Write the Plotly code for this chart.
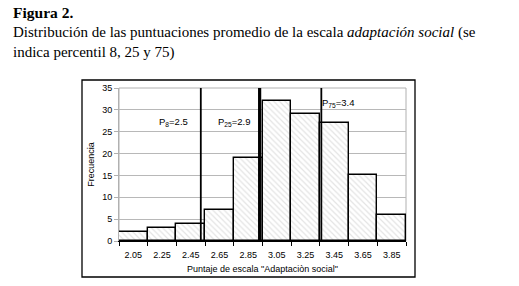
import plotly.graph_objects as go

# Data
bin_centers = [2.05, 2.25, 2.45, 2.65, 2.85, 3.05, 3.25, 3.45, 3.65, 3.85]
frequencies = [2, 3, 4, 7, 19, 32, 29, 27, 15, 6]
tick_labels = ["2.05", "2.25", "2.45", "2.65", "2.85", "3.05", "3.25", "3.45", "3.65", "3.85"]
percentile_names = ["P<sub>8</sub>=2.5", "P<sub>25</sub>=2.9", "P<sub>75</sub>=3.4"]
percentile_line_x = [2.52, 2.93, 3.36]   # positions of drawn lines
percentile_line_w = [1.8, 3.2, 1.8]
label_x = [2.333, 2.758, 3.48]
label_y = [27.3, 27.3, 31.6]

W, H = 519, 286
L, R, T, B = 119, 113, 88, 45
pw, ph = W - L - R, H - T - B

def px2paper_x(px):
    return (px - L) / pw

def px2paper_y(py):
    return (H - B - py) / ph

fig = go.Figure()
fig.add_trace(go.Bar(
    x=bin_centers, y=frequencies, width=0.2,
    marker=dict(color="white",
                line=dict(color="black", width=1.4),
                pattern=dict(shape="\\", fgcolor="#c8c8c8", bgcolor="white", size=4, solidity=0.3)),
    showlegend=False, hoverinfo="skip"))

shapes = []
# plot area border (gray)
shapes.append(dict(type="rect", xref="paper", yref="paper", x0=0, x1=1, y0=0, y1=1,
                   line=dict(color="#b0b0b0", width=1), layer="below"))
# outer chart border
shapes.append(dict(type="rect", xref="paper", yref="paper",
                   x0=px2paper_x(82), x1=px2paper_x(415), y0=px2paper_y(277), y1=px2paper_y(80),
                   line=dict(color="black", width=1.3)))
for xv, w in zip(percentile_line_x, percentile_line_w):
    shapes.append(dict(type="line", xref="x", yref="y", x0=xv, x1=xv, y0=-2.6, y1=35.3,
                       line=dict(color="black", width=w)))

annotations = []
for name, xv, yv in zip(percentile_names, label_x, label_y):
    annotations.append(dict(x=xv, y=yv, xref="x", yref="y", text=name, showarrow=False,
                            font=dict(family="Liberation Sans", size=9.5, color="black")))
annotations.append(dict(x=px2paper_x(11), y=px2paper_y(2), xref="paper", yref="paper",
                        xanchor="left", yanchor="top", showarrow=False,
                        text="<b>Figura 2.</b>",
                        font=dict(family="Liberation Serif", size=15.5, color="black")))
annotations.append(dict(x=px2paper_x(11), y=px2paper_y(22), xref="paper", yref="paper",
                        xanchor="left", yanchor="top", showarrow=False, align="left",
                        text="Distribución de las puntuaciones promedio de la escala <i>adaptación social</i> (se<br>indica percentil 8, 25 y 75)",
                        font=dict(family="Liberation Serif", size=15, color="black")))

fig.update_layout(
    width=W, height=H, margin=dict(l=L, r=R, t=T, b=B, autoexpand=False),
    paper_bgcolor="white", plot_bgcolor="white",
    bargap=0, shapes=shapes, annotations=annotations,
    font=dict(family="Liberation Sans", size=9, color="black"),
    xaxis=dict(range=[1.95, 3.95], tickmode="array", tickvals=bin_centers, ticktext=tick_labels,
               ticks="", showgrid=False, zeroline=False, showline=True, linecolor="black", linewidth=1.2,
               tickfont=dict(size=9), ticklabelstandoff=5,
               minor=dict(tickmode="linear", tick0=1.95, dtick=0.2, ticks="outside", ticklen=4,
                          tickcolor="black", showgrid=False),
               title=dict(text="Puntaje de escala \"Adaptaciòn social\"", font=dict(size=9), standoff=6)),
    yaxis=dict(range=[0, 35], dtick=5, showgrid=True, gridcolor="#b8b8b8", gridwidth=1,
               zeroline=False, showline=True, linecolor="#b0b0b0", ticks="outside", ticklen=4,
               tickcolor="#b0b0b0", tickfont=dict(size=9),
               title=dict(text="Frecuencia", font=dict(size=9), standoff=6)),
)
fig.write_html("out.html", config={"displayModeBar": False},
               post_script="document.body.style.margin='0px';")
